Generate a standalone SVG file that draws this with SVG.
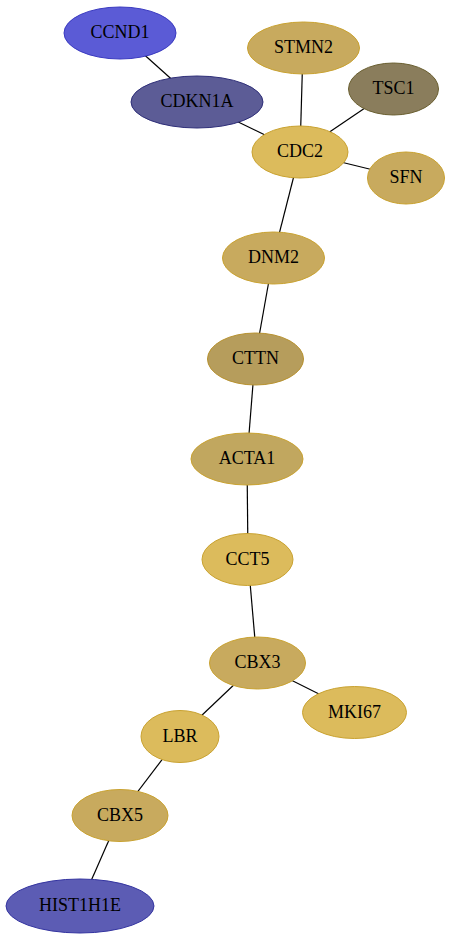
<svg xmlns="http://www.w3.org/2000/svg" width="452" height="940" viewBox="0 0 452 940">
<style>
  .e line { stroke: #000; stroke-width: 1.2; }
  .n ellipse { stroke-width: 1; }
  .n text { font-family: "Liberation Serif", "Times New Roman", serif; font-size: 18px; text-anchor: middle; fill: #000; }
  .gold ellipse { fill: #dcbb5c; stroke: #c9a230; }
  .tan ellipse { fill: #c8aa5e; stroke: #c9a230; }
  .tan2 ellipse { fill: #c1a75f; stroke: #c9a230; }
  .tan3 ellipse { fill: #b69d5c; stroke: #b7912e; }
</style>
<rect width="452" height="940" fill="#fff"/>
<g class="e" id="edges">
  <line x1="120" y1="33" x2="197" y2="102"/>
  <line x1="197" y1="102" x2="300" y2="152"/>
  <line x1="303" y1="48" x2="300" y2="152"/>
  <line x1="393" y1="89" x2="300" y2="152"/>
  <line x1="300" y1="152" x2="406" y2="178"/>
  <line x1="300" y1="152" x2="273" y2="258"/>
  <line x1="273" y1="258" x2="255" y2="359"/>
  <line x1="255" y1="359" x2="247" y2="459"/>
  <line x1="247" y1="459" x2="248" y2="559"/>
  <line x1="248" y1="559" x2="257" y2="663"/>
  <line x1="257" y1="663" x2="180" y2="736"/>
  <line x1="257" y1="663" x2="355" y2="712"/>
  <line x1="180" y1="736" x2="120" y2="815"/>
  <line x1="120" y1="815" x2="80" y2="906"/>
</g>
<g class="n" id="CCND1"><ellipse cx="120" cy="33" rx="56" ry="26" fill="#5b5bd6" stroke="#3a3ac0"/><text x="120" y="38">CCND1</text></g>
<g class="n" id="CDKN1A"><ellipse cx="197" cy="102" rx="66" ry="26" fill="#5c5c96" stroke="#2e2e78"/><text x="197" y="107">CDKN1A</text></g>
<g class="n tan" id="STMN2"><ellipse cx="303.5" cy="48" rx="56" ry="26"/><text x="303.5" y="53">STMN2</text></g>
<g class="n" id="TSC1"><ellipse cx="393.5" cy="89" rx="45" ry="26" fill="#8a7d5c" stroke="#6a5f30"/><text x="393.5" y="94">TSC1</text></g>
<g class="n gold" id="CDC2"><ellipse cx="300" cy="152" rx="48" ry="26"/><text x="300" y="157">CDC2</text></g>
<g class="n tan" id="SFN"><ellipse cx="406" cy="178" rx="38.5" ry="26"/><text x="406" y="183">SFN</text></g>
<g class="n tan" id="DNM2"><ellipse cx="273.5" cy="258" rx="51" ry="26"/><text x="273.5" y="263">DNM2</text></g>
<g class="n tan3" id="CTTN"><ellipse cx="255.5" cy="359" rx="48" ry="26"/><text x="255.5" y="364">CTTN</text></g>
<g class="n tan2" id="ACTA1"><ellipse cx="247" cy="459" rx="56" ry="26"/><text x="247" y="464">ACTA1</text></g>
<g class="n gold" id="CCT5"><ellipse cx="247.5" cy="559.5" rx="45.5" ry="26"/><text x="247.5" y="564.5">CCT5</text></g>
<g class="n tan" id="CBX3"><ellipse cx="257.5" cy="663" rx="48" ry="26"/><text x="257.5" y="668">CBX3</text></g>
<g class="n gold" id="MKI67"><ellipse cx="354.5" cy="712.5" rx="52" ry="26"/><text x="354.5" y="717.5">MKI67</text></g>
<g class="n gold" id="LBR"><ellipse cx="180" cy="736.5" rx="39" ry="26"/><text x="180" y="741.5">LBR</text></g>
<g class="n tan" id="CBX5"><ellipse cx="120" cy="815.5" rx="48" ry="26"/><text x="120" y="820.5">CBX5</text></g>
<g class="n" id="HIST1H1E"><ellipse cx="80" cy="906" rx="74" ry="27" fill="#5c5cb4" stroke="#3434a0"/><text x="80" y="911">HIST1H1E</text></g>
</svg>
